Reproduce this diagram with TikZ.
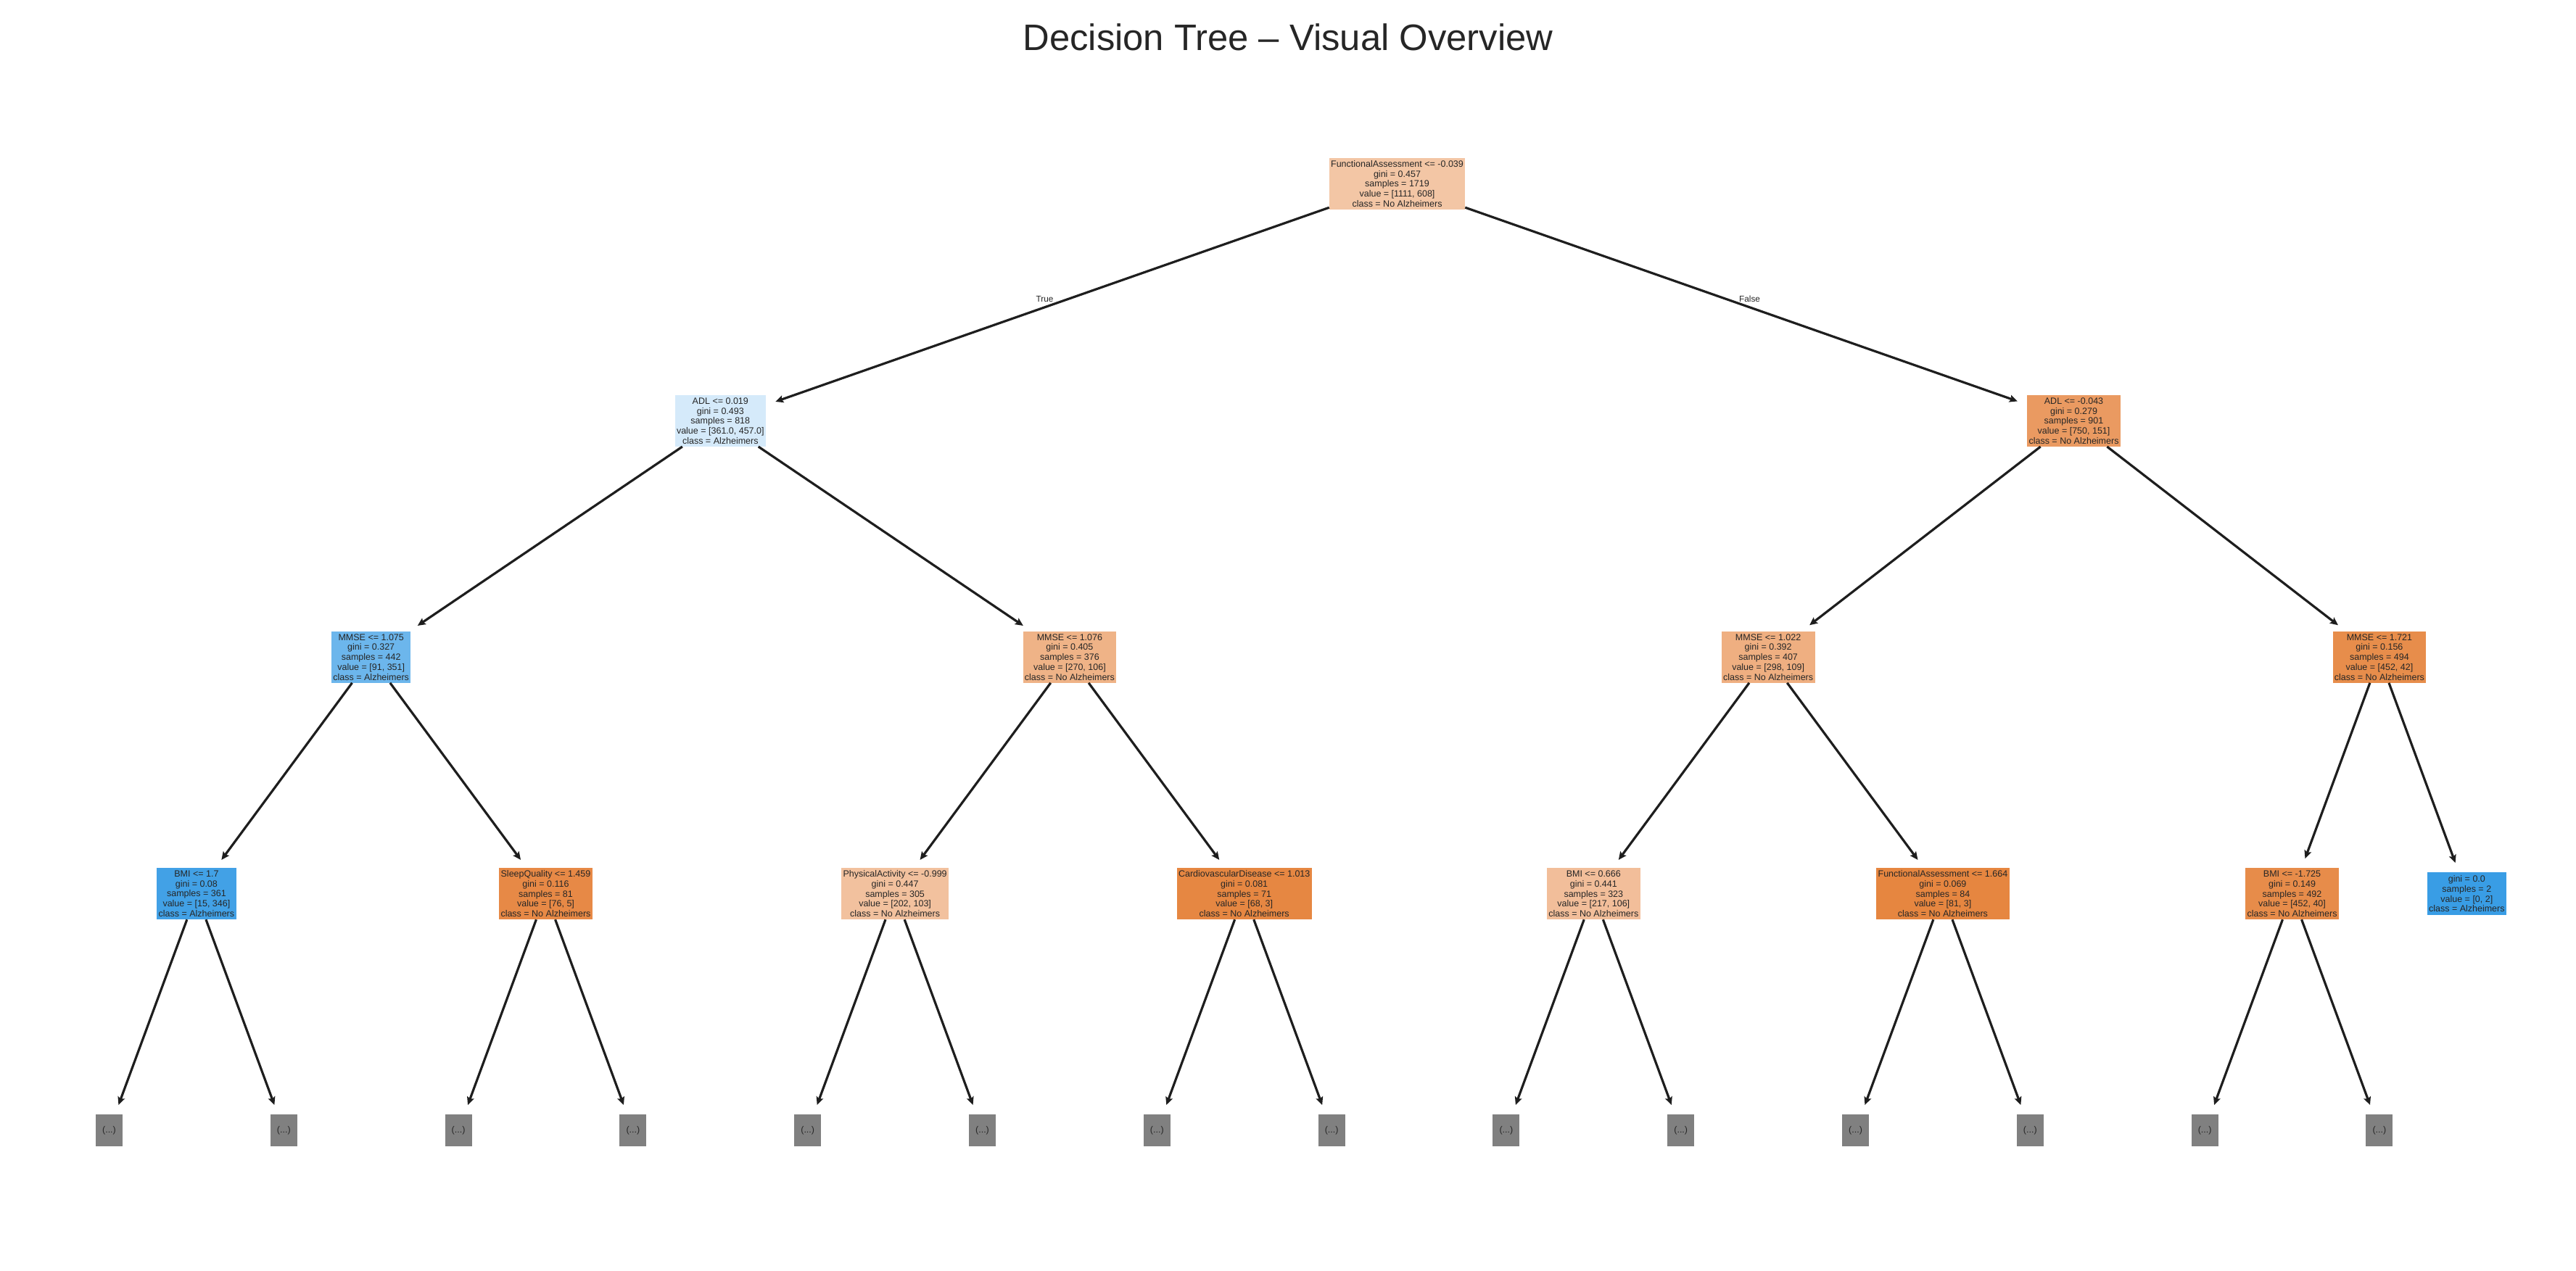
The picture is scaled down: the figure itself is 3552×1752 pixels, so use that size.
\documentclass[tikz,border=0pt]{standalone}
\usepackage{fontspec}
\setmainfont{Liberation Sans}
\usetikzlibrary{arrows.meta}
\definecolor{skorange}{RGB}{229,129,57}
\definecolor{skblue}{RGB}{57,157,229}
\definecolor{txt}{HTML}{262626}
\definecolor{edgecol}{HTML}{1E1E1E}
\definecolor{leafgray}{HTML}{808080}
\begin{document}
\begin{tikzpicture}[x=0.5pt,y=-0.5pt,
  treenode/.style={rectangle, align=center, inner xsep=1.2pt, inner ysep=1pt, minimum height=35.5pt, outer sep=0pt, text=txt, font=\fontsize{6.25}{6.9}\selectfont},
  elided/.style={rectangle, fill=leafgray, minimum width=18.5pt, minimum height=22pt, inner sep=0pt, outer sep=0pt, text=txt, font=\fontsize{6.25}{6.9}\selectfont},
  edge/.style={draw=edgecol, line width=1.6pt, -{Stealth[length=5.5pt,width=5pt,inset=1pt]}, shorten >=7pt},
  edgelabel/.style={text=txt, font=\fontsize{5.9}{7}\selectfont, inner sep=0pt},
  titlestyle/.style={text=txt, font=\fontsize{25.4}{30}\selectfont, inner sep=0pt, anchor=base}
]
\useasboundingbox (0,0) rectangle (3552,1752);
\node[titlestyle] (title) at (1776,69) {Decision Tree – Visual Overview};

% level 0
\node[treenode, fill=skorange!45.3!white] (n0) at (1926.5,253.5) {FunctionalAssessment <= -0.039\\gini = 0.457\\samples = 1719\\value = [1111, 608]\\class = No Alzheimers};
% level 1
\node[treenode, fill=skblue!21!white] (n1) at (993.3,580.5) {ADL <= 0.019\\gini = 0.493\\samples = 818\\value = [361.0, 457.0]\\class = Alzheimers};
\node[treenode, fill=skorange!79.9!white] (n2) at (2859.5,580.5) {ADL <= -0.043\\gini = 0.279\\samples = 901\\value = [750, 151]\\class = No Alzheimers};
% level 2
\node[treenode, fill=skblue!74.1!white] (n3) at (511.7,906.3) {MMSE <= 1.075\\gini = 0.327\\samples = 442\\value = [91, 351]\\class = Alzheimers};
\node[treenode, fill=skorange!60.7!white] (n4) at (1474.9,906.3) {MMSE <= 1.076\\gini = 0.405\\samples = 376\\value = [270, 106]\\class = No Alzheimers};
\node[treenode, fill=skorange!63.4!white] (n5) at (2438.1,906.3) {MMSE <= 1.022\\gini = 0.392\\samples = 407\\value = [298, 109]\\class = No Alzheimers};
\node[treenode, fill=skorange!90.7!white] (n6) at (3280.9,906.3) {MMSE <= 1.721\\gini = 0.156\\samples = 494\\value = [452, 42]\\class = No Alzheimers};
% level 3
\node[treenode, fill=skblue!95.7!white] (n7) at (270.9,1232.7) {BMI <= 1.7\\gini = 0.08\\samples = 361\\value = [15, 346]\\class = Alzheimers};
\node[treenode, fill=skorange!93.4!white] (n8) at (752.5,1232.7) {SleepQuality <= 1.459\\gini = 0.116\\samples = 81\\value = [76, 5]\\class = No Alzheimers};
\node[treenode, fill=skorange!49!white] (n9) at (1234.1,1232.7) {PhysicalActivity <= -0.999\\gini = 0.447\\samples = 305\\value = [202, 103]\\class = No Alzheimers};
\node[treenode, fill=skorange!95.6!white] (n10) at (1715.7,1232.7) {CardiovascularDisease <= 1.013\\gini = 0.081\\samples = 71\\value = [68, 3]\\class = No Alzheimers};
\node[treenode, fill=skorange!51.2!white] (n11) at (2197.3,1232.7) {BMI <= 0.666\\gini = 0.441\\samples = 323\\value = [217, 106]\\class = No Alzheimers};
\node[treenode, fill=skorange!96.3!white] (n12) at (2678.9,1232.7) {FunctionalAssessment <= 1.664\\gini = 0.069\\samples = 84\\value = [81, 3]\\class = No Alzheimers};
\node[treenode, fill=skorange!91.2!white] (n13) at (3160.5,1232.7) {BMI <= -1.725\\gini = 0.149\\samples = 492\\value = [452, 40]\\class = No Alzheimers};
\node[treenode, fill=skblue, minimum height=29.5pt] (n14) at (3401.3,1232.7) {gini = 0.0\\samples = 2\\value = [0, 2]\\class = Alzheimers};
% level 4 (elided subtrees)
\foreach \k in {0,...,13} {
  \node[elided] (l\k) at ({150.5+240.8*\k},1559.1) {(...)};
}
% edges
\draw[edge] (n0) -- (n1);
\draw[edge] (n0) -- (n2);
\node[edgelabel] (lbtrue) at (1440.5,412) {True};
\node[edgelabel] (lbfalse) at (2412.5,412) {False};
\draw[edge] (n1) -- (n3);
\draw[edge] (n1) -- (n4);
\draw[edge] (n2) -- (n5);
\draw[edge] (n2) -- (n6);
\draw[edge] (n3) -- (n7);
\draw[edge] (n3) -- (n8);
\draw[edge] (n4) -- (n9);
\draw[edge] (n4) -- (n10);
\draw[edge] (n5) -- (n11);
\draw[edge] (n5) -- (n12);
\draw[edge] (n6) -- (n13);
\draw[edge] (n6) -- (n14);
\foreach \p/\a/\b in {7/0/1, 8/2/3, 9/4/5, 10/6/7, 11/8/9, 12/10/11, 13/12/13} {
  \draw[edge] (n\p) -- (l\a);
  \draw[edge] (n\p) -- (l\b);
}
\end{tikzpicture}
\end{document}
